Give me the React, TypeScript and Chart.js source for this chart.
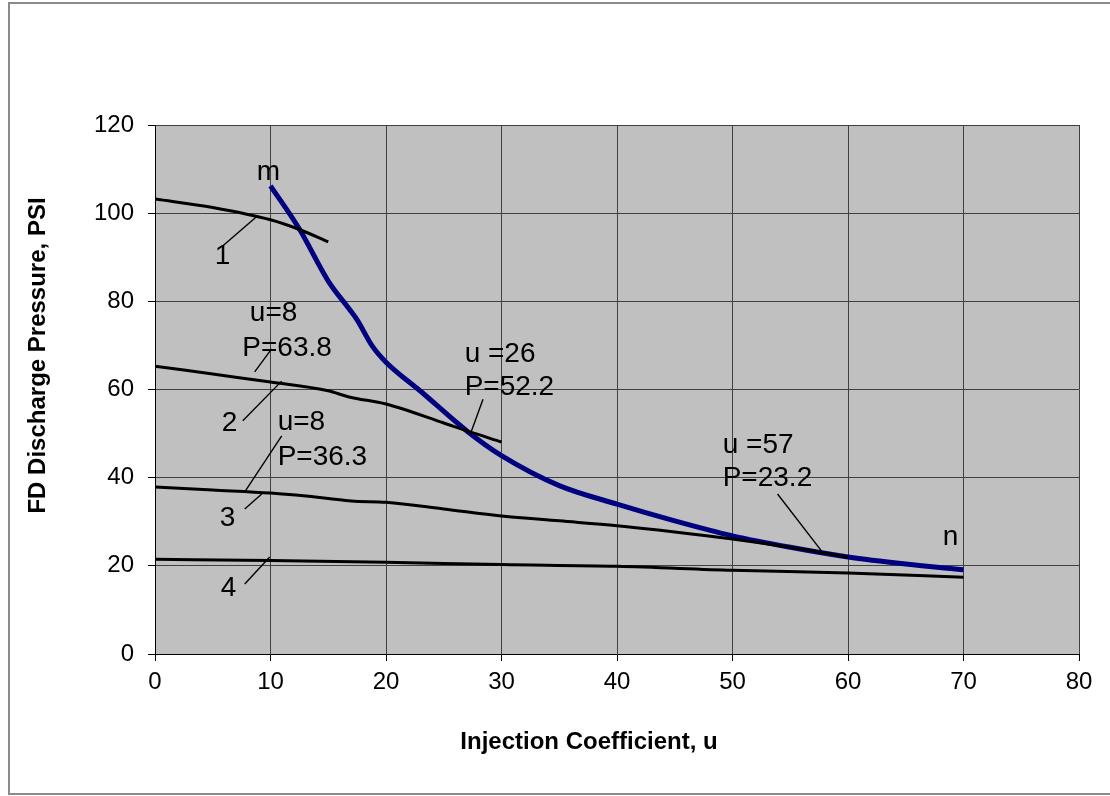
import React, { useEffect, useRef } from "react";
import { Chart, registerables } from "chart.js";

Chart.register(...registerables);

// ---- axis ranges / ticks ----
const xTickValues = [0, 10, 20, 30, 40, 50, 60, 70, 80];
const yTickValues = [0, 20, 40, 60, 80, 100, 120];
const xTitle = "Injection Coefficient, u";
const yTitle = "FD Discharge Pressure, PSI";

// ---- curve 1 ----
const curve1U = [0, 5, 10, 12.5, 15];
const curve1P = [103.2, 101.3, 98.5, 96.3, 93.5];

// ---- curve 2 ----
const curve2U = [0, 5, 10, 15, 16.8, 20, 25, 27, 30];
const curve2P = [65.3, 63.5, 61.7, 59.7, 58.3, 56.7, 52.4, 50.6, 48.1];

// ---- curve 3 ----
const curve3U = [0, 5, 10, 15, 17, 20, 25, 30, 35, 40, 45, 50, 55, 60];
const curve3P = [37.9, 37.2, 36.5, 35.3, 34.7, 34.4, 32.9, 31.3, 30.2, 29.1, 27.7, 26.1, 24.2, 22.0];

// ---- curve 4 ----
const curve4U = [0, 10, 20, 30, 40, 50, 60, 70];
const curve4P = [21.5, 21.2, 20.8, 20.3, 19.9, 19.0, 18.4, 17.4];

// ---- blue curve m-n ----
const mnU = [10, 12.5, 15, 16.8, 17.5, 18.8, 20, 23, 27, 30, 35, 40, 45, 50, 55, 60, 65, 70];
const mnP = [106.2, 96.4, 84.6, 78.3, 75.8, 69.9, 66.2, 59.6, 50.6, 45.0, 38.2, 34.0, 30.2, 26.8, 24.2, 22.0, 20.4, 19.1];

// ---- annotation texts (left / baseline anchor, in data units) ----
const labelTexts = ["m", "1", "u=8", "P=63.8", "2", "u=8", "P=36.3", "3", "4", "u =26", "P=52.2", "u =57", "P=23.2", "n"];
const labelU = [8.81, 5.17, 8.21, 7.56, 5.77, 10.62, 10.62, 5.6, 5.69, 26.81, 26.81, 49.15, 49.15, 68.2];
const labelP = [107.5, 88.5, 75.5, 67.6, 50.6, 50.8, 42.8, 29.0, 13.2, 66.2, 58.8, 45.6, 38.1, 24.8];

// ---- leader lines (from -> to, data units) ----
const leaderU1 = [5.88, 8.63, 7.6, 10.97, 7.77, 7.77, 28.4, 53.9];
const leaderP1 = [92.6, 64.0, 52.9, 49.5, 32.9, 15.9, 57.8, 36.3];
const leaderU2 = [8.89, 10.1, 10.97, 7.77, 9.24, 9.93, 27.4, 57.7];
const leaderP2 = [99.4, 69.2, 61.9, 36.8, 36.3, 22.0, 50.6, 23.4];

const FONT = "'Liberation Sans', Arial, Helvetica, sans-serif";

const toPoints = (u: number[], p: number[]) => u.map((v, i) => ({ x: v, y: p[i] }));

const bgAndAnnotations = {
  id: "bgAndAnnotations",
  beforeDraw(chart: any) {
    const { ctx, chartArea } = chart;
    ctx.save();
    ctx.fillStyle = "#c0c0c0";
    ctx.fillRect(chartArea.left, chartArea.top, chartArea.right - chartArea.left, chartArea.bottom - chartArea.top);
    ctx.restore();
  },
  afterDatasetsDraw(chart: any) {
    const { ctx, chartArea } = chart;
    const xs = chart.scales.x;
    const ys = chart.scales.y;
    ctx.save();
    ctx.strokeStyle = "#000";
    ctx.lineWidth = 1.4;
    for (let i = 0; i < leaderU1.length; i++) {
      ctx.beginPath();
      ctx.moveTo(xs.getPixelForValue(leaderU1[i]), ys.getPixelForValue(leaderP1[i]));
      ctx.lineTo(xs.getPixelForValue(leaderU2[i]), ys.getPixelForValue(leaderP2[i]));
      ctx.stroke();
    }
    ctx.fillStyle = "#000";
    ctx.font = `28px ${FONT}`;
    ctx.textAlign = "left";
    ctx.textBaseline = "alphabetic";
    for (let i = 0; i < labelTexts.length; i++) {
      ctx.fillText(labelTexts[i], xs.getPixelForValue(labelU[i]), ys.getPixelForValue(labelP[i]));
    }

    // axis titles (Excel-style, offset from plot centre)
    ctx.font = `bold 24px ${FONT}`;
    ctx.textAlign = "center";
    ctx.textBaseline = "middle";
    const midX = (chartArea.left + chartArea.right) / 2;
    const midY = (chartArea.top + chartArea.bottom) / 2;
    ctx.fillText(xTitle, midX - 28, chartArea.bottom + 88);
    ctx.translate(38, midY - 34);
    ctx.rotate(-Math.PI / 2);
    ctx.fillText(yTitle, 0, 0);
    ctx.restore();
  },
};

export default function App() {
  const canvasRef = useRef<HTMLCanvasElement | null>(null);

  useEffect(() => {
    if (!canvasRef.current) return;
    const blackLine = (u: number[], p: number[]) => ({
      data: toPoints(u, p),
      borderColor: "#000000",
      borderWidth: 3,
      pointRadius: 0,
      showLine: true,
      cubicInterpolationMode: "monotone" as const,
      fill: false,
    });
    const chart = new Chart(canvasRef.current, {
      type: "scatter",
      data: {
        datasets: [
          blackLine(curve1U, curve1P),
          blackLine(curve2U, curve2P),
          blackLine(curve3U, curve3P),
          blackLine(curve4U, curve4P),
          {
            data: toPoints(mnU, mnP),
            borderColor: "#000080",
            borderWidth: 5,
            pointRadius: 0,
            showLine: true,
            cubicInterpolationMode: "monotone" as const,
            fill: false,
          },
        ],
      },
      options: {
        animation: false,
        responsive: false,
        events: [],
        layout: { padding: { top: 125, right: 31, left: 0, bottom: 0 } },
        plugins: { legend: { display: false }, tooltip: { enabled: false }, title: { display: false } },
        scales: {
          x: {
            type: "linear",
            min: xTickValues[0],
            max: xTickValues[xTickValues.length - 1],
            afterBuildTicks: (s: any) => {
              s.ticks = xTickValues.map((v) => ({ value: v }));
            },
            afterFit: (s: any) => {
              s.height = 142;
            },
            ticks: { color: "#000", padding: 7, font: { family: FONT, size: 24 } },
            grid: { color: "#404040", lineWidth: 1, tickColor: "#000", tickLength: 7 },
            border: { color: "#000", width: 1 },
            title: { display: false },
          },
          y: {
            type: "linear",
            min: yTickValues[0],
            max: yTickValues[yTickValues.length - 1],
            afterBuildTicks: (s: any) => {
              s.ticks = yTickValues.map((v) => ({ value: v }));
            },
            afterFit: (s: any) => {
              s.width = 155;
            },
            ticks: { color: "#000", padding: 14, font: { family: FONT, size: 24 } },
            grid: { color: "#404040", lineWidth: 1, tickColor: "#000", tickLength: 7 },
            border: { color: "#000", width: 1 },
            title: { display: false },
          },
        },
      },
      plugins: [bgAndAnnotations],
    });
    return () => chart.destroy();
  }, []);

  return (
    <div>
      <div
        style={{
          position: "fixed",
          left: 8,
          top: 2,
          width: 1200,
          height: 793,
          border: "2px solid #8a8a8a",
          boxSizing: "border-box",
        }}
      />
      <canvas
        ref={canvasRef}
        width={1110}
        height={796}
        style={{ position: "fixed", left: 0, top: 0, width: 1110, height: 796 }}
      />
    </div>
  );
}
